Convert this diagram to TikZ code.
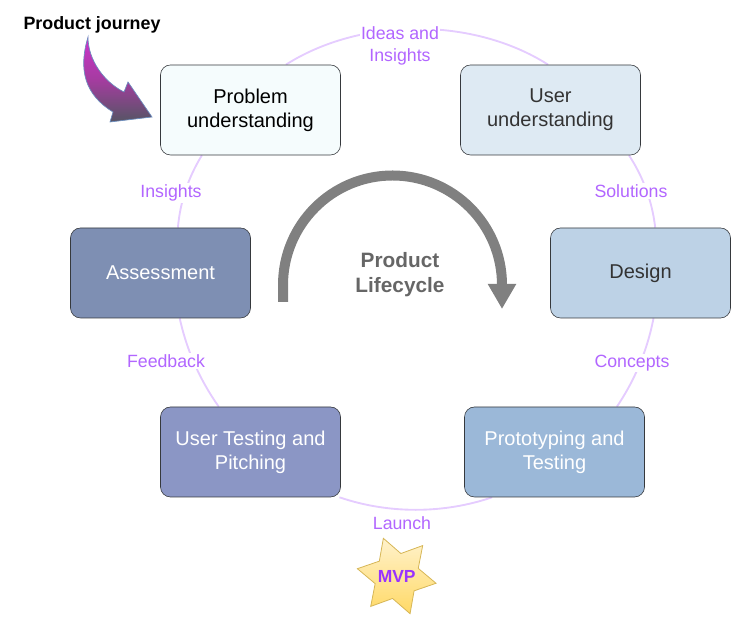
\documentclass[tikz,border=0pt]{standalone}
\usepackage{fontspec}
\setmainfont{Liberation Sans}
\usetikzlibrary{positioning,arrows.meta,shapes.geometric,backgrounds}
\definecolor{problemcolor}{RGB}{245, 252, 253}
\definecolor{usercolor}{RGB}{222, 234, 243}
\definecolor{designcolor}{RGB}{189, 210, 230}
\definecolor{protocolor}{RGB}{155, 184, 216}
\definecolor{testingcolor}{RGB}{139, 150, 197}
\definecolor{assesscolor}{RGB}{126, 143, 179}
\definecolor{boxline}{RGB}{54, 57, 61}
\definecolor{ringcolor}{RGB}{229, 204, 255}
\definecolor{labelcolor}{RGB}{178, 102, 255}
\definecolor{cyclecolor}{RGB}{128, 128, 128}
\definecolor{cycletext}{RGB}{102, 102, 102}
\tikzset{
    stagebox/.style={draw=boxline, line width=0.45pt, rounded corners=7.5pt, minimum width=135pt,
        minimum height=67.5pt, inner sep=0pt, align=center, font=\fontsize{15}{18}\selectfont},
    flowlabel/.style={fill=white, inner sep=1pt, align=center, text=labelcolor, font=\fontsize{13.3}{16.5}\selectfont},
    ringline/.style={draw=ringcolor, line width=1.4pt, looseness=0.87}
}

\begin{document}
\begin{tikzpicture}[x=0.75pt, y=0.75pt, >=Stealth]
    \useasboundingbox (0, 0) rectangle (741, 630);

    % ═══════════════════════════════════════════════════════════════
    % STAGES
    % ═══════════════════════════════════════════════════════════════

    \node[stagebox, fill=problemcolor, text=black] (problem) at (250.5, 520) {Problem\\understanding};
    \node[stagebox, fill=usercolor, text=black!80] (user) at (550.5, 520) {User\\understanding};
    \node[stagebox, fill=designcolor, text=black!80] (design) at (640.5, 357) {Design};
    \node[stagebox, fill=protocolor, text=white] (proto) at (554.5, 178) {Prototyping and\\Testing};
    \node[stagebox, fill=testingcolor, text=white] (testing) at (250.5, 178) {User Testing and\\Pitching};
    \node[stagebox, fill=assesscolor, text=white] (assess) at (160.5, 357) {Assessment};

    % ═══════════════════════════════════════════════════════════════
    % RING
    % ═══════════════════════════════════════════════════════════════

    \begin{scope}[on background layer]
        \draw[ringline] (problem.52) to[bend left=32.5] (user.93);
        \draw[ringline] (user.330.6) to[bend left=13.4] (design.72);
        \draw[ringline] (design.286) to[bend left=11.5] (proto.36.9);
        \draw[ringline] (proto.216.9) to[bend left=18.8] (testing.333);
        \draw[ringline] (testing.125.4) to[bend left=11.5] (assess.293);
        \draw[ringline] (assess.69) to[bend left=13.4] (problem.223.2);
    \end{scope}

    % Labels
    \node[flowlabel] (ideas) at (400, 584) {Ideas and\\Insights};
    \node[flowlabel] (solutions) at (631, 439) {Solutions};
    \node[flowlabel] (concepts) at (632, 267) {Concepts};
    \node[flowlabel] (launch) at (402, 107) {Launch};
    \node[flowlabel] (feedback) at (166, 269) {Feedback};
    \node[flowlabel] (insights) at (171, 437) {Insights};

    % ═══════════════════════════════════════════════════════════════
    % LIFECYCLE
    % ═══════════════════════════════════════════════════════════════

    \coordinate (cyclestart) at (283, 328);
    \coordinate (cycletip) at (502, 321);
    \draw[-{Triangle[length=18.75pt, width=20pt]}, cyclecolor, line width=7.5pt]
        (cyclestart) -- (283, 345) arc[start angle=180, end angle=0, radius=109.5] -- (cycletip);
    \node[align=center, text=cycletext, font=\fontsize{15.6}{18.75}\selectfont\bfseries] (lifecycle) at (400, 355) {Product\\Lifecycle};

    % ═══════════════════════════════════════════════════════════════
    % JOURNEY
    % ═══════════════════════════════════════════════════════════════

    \node[font=\fontsize{13.4}{16}\selectfont\bfseries] (journey) at (92, 605) {Product journey};
    \path[draw={rgb,255:red,108;green,142;blue,191}, line width=0.5pt, top color={rgb,255:red,204;green,51;blue,204},
        bottom color={rgb,255:red,85;green,85;blue,100}, middle color={rgb,255:red,165;green,60;blue,160}]
        (88, 593) .. controls (78, 560) and (85, 535) .. (113, 518) -- (110, 508) -- (152, 513)
        -- (128, 548) -- (124, 538) .. controls (104, 548) and (88, 570) .. cycle;

    % ═══════════════════════════════════════════════════════════════
    % MVP
    % ═══════════════════════════════════════════════════════════════

    \node[star, star points=6, star point ratio=1.75, shape border rotate=19.5, minimum size=60pt, inner sep=0pt,
        draw={rgb,255:red,214;green,182;blue,86}, line width=0.6pt,
        top color={rgb,255:red,255;green,242;blue,204}, bottom color={rgb,255:red,255;green,217;blue,102}] (mvpstar) at (396.7, 54) {};
    \node[text={rgb,255:red,153;green,51;blue,255}, font=\fontsize{13.1}{16}\selectfont\bfseries] (mvp) at (mvpstar) {MVP};

\end{tikzpicture}
\end{document}
